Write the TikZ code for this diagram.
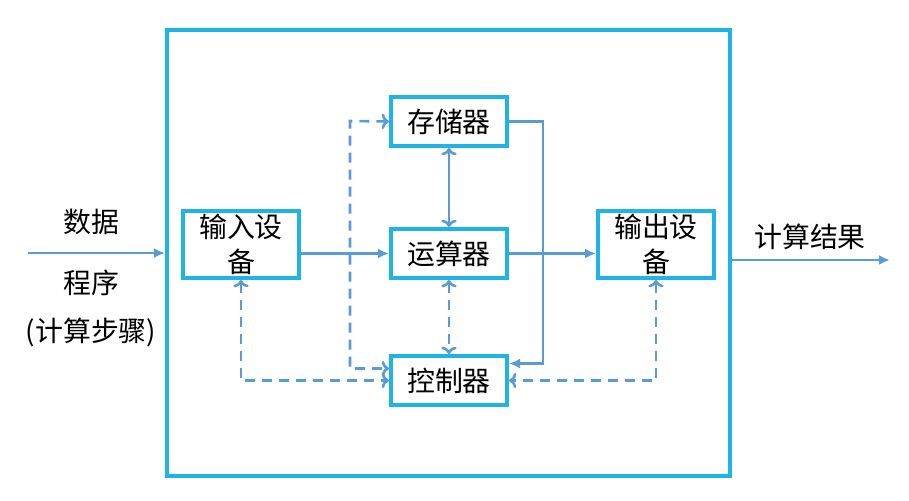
\documentclass[tikz,border=0pt]{standalone}
\usepackage{fontspec}
\setmainfont{Noto Sans CJK SC}
\usetikzlibrary{positioning,arrows.meta}
\definecolor{framecyan}{RGB}{30,180,230}
\definecolor{linkblue}{RGB}{91,155,213}
\tikzset{
  casing/.style={draw=framecyan, line width=4bp, minimum width=563bp, minimum height=446bp},
  unit/.style={draw=framecyan, line width=4bp, minimum width=116bp, minimum height=49bp, inner sep=2bp, align=center, font=\fontsize{28}{35}\selectfont},
  device/.style={unit, minimum height=67bp},
  flow/.style={draw=linkblue, line width=2.6bp, -{Latex[length=11bp,width=10bp]}},
  ctrl/.style={flow, dash pattern=on 10bp off 7bp},
  sidetext/.style={font=\fontsize{28}{35}\selectfont},
}

\begin{document}
\begin{tikzpicture}[x=1bp, y=-1bp]
\useasboundingbox (0,0) rectangle (909,501);

% --- machine frame ---
\node (frame) [casing] at (448.5,253) {};

% --- units ---
\node (alu) [unit] at (449,253.5) {运算器};
\node (mem) [unit, above=79bp of alu] {存储器};
\node (ctl) [unit, below=74bp of alu] {控制器};
\node (in)  [device, left=88bp of alu.south west, anchor=south east] {输入设\\备};
\node (out) [device, right=87bp of alu.south east, anchor=south west] {输出设\\备};

% --- outside texts ---
\node (data) [sidetext] at (91,222) {数据};
\node (prog) [sidetext] at (91,283) {程序};
\node (steps) [sidetext] at (91,332) {(计算步骤)};
\node (res) [sidetext] at (810,237) {计算结果};

% --- data flow ---
\coordinate (entry) at (28,253);
\coordinate (result) at (890,260);
\draw[flow] (entry) -- (frame.west);
\draw[flow] (frame.east |- result) -- (result);
\draw[flow] (in.east |- alu.west) -- (alu.west);
\draw[flow] (alu.east) -- (alu.east -| out.west);
\draw[flow, <->] (mem) -- (alu);
\draw[flow] (mem.east) -- ++(34,0) |- ([yshift=17bp]ctl.east);

% --- control signals ---
\coordinate (bus) at (350,121);
\draw[ctrl, <->] (alu) -- (ctl);
\draw[ctrl, <->] (in) |- (ctl);
\draw[ctrl, <->] (out) |- (ctl);
\draw[ctrl, <->] (mem.west) -- (bus) |- ([yshift=12bp]ctl.west);

\end{tikzpicture}
\end{document}
